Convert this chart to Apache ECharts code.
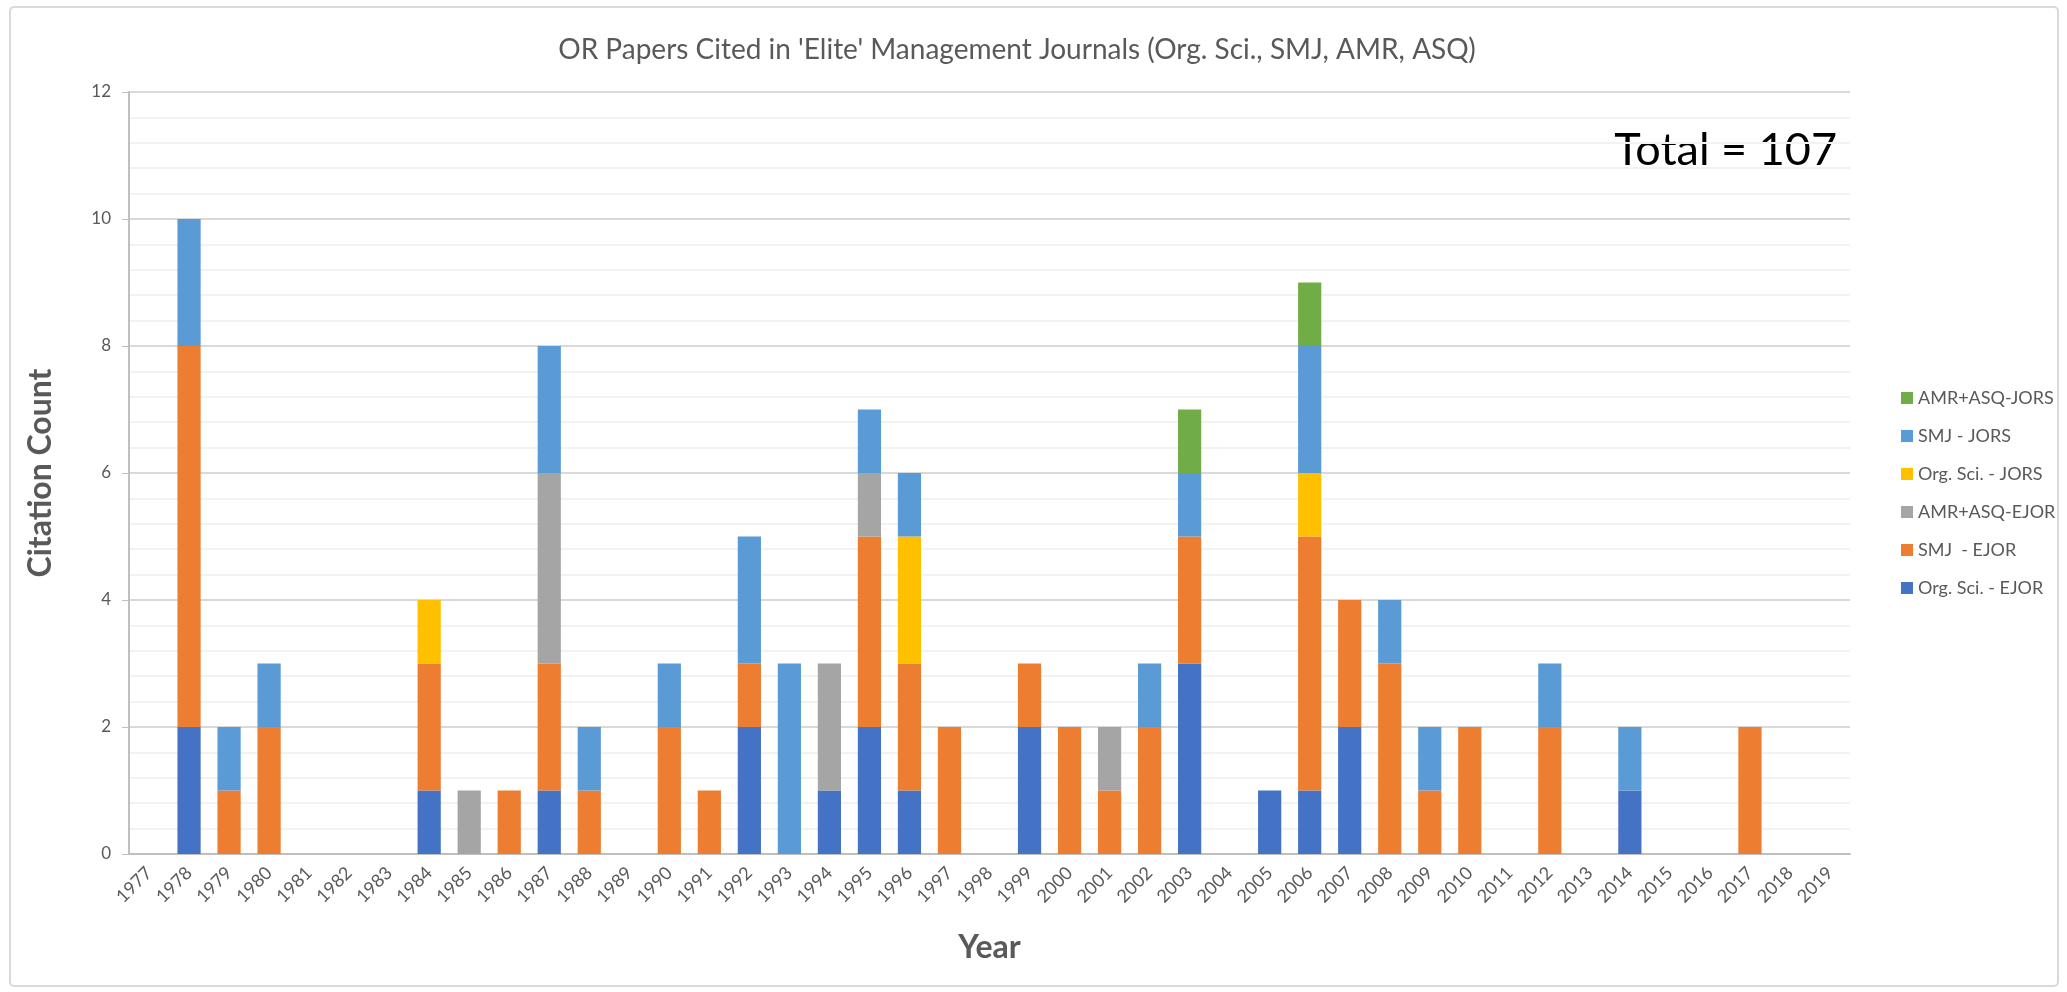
<!DOCTYPE html>
<html>
<head>
<meta charset="utf-8">
<title>OR Papers Cited in 'Elite' Management Journals</title>
<script src="https://cdn.jsdelivr.net/npm/echarts@6/dist/echarts.min.js"></script>
<style>
  html, body { margin: 0; padding: 0; background: #fff; }
  #chart { width: 2067px; height: 992px; }
</style>
</head>
<body>
<div id="chart"></div>
<script>
// years on the x axis
const years = []
for (let y = 1977; y <= 2019; y++) years.push(String(y))

// citation counts per year, one array per series (1977..2019)
const orgSciEJOR = [0, 2, 0, 0, 0, 0, 0, 1, 0, 0, 1, 0, 0, 0, 0, 2, 0, 1, 2, 1, 0, 0, 2, 0, 0, 0, 3, 0, 1, 1, 2, 0, 0, 0, 0, 0, 0, 1, 0, 0, 0, 0, 0]
const smjEJOR    = [0, 6, 1, 2, 0, 0, 0, 2, 0, 1, 2, 1, 0, 2, 1, 1, 0, 0, 3, 2, 2, 0, 1, 2, 1, 2, 2, 0, 0, 4, 2, 3, 1, 2, 0, 2, 0, 0, 0, 0, 2, 0, 0]
const amrAsqEJOR = [0, 0, 0, 0, 0, 0, 0, 0, 1, 0, 3, 0, 0, 0, 0, 0, 0, 2, 1, 0, 0, 0, 0, 0, 1, 0, 0, 0, 0, 0, 0, 0, 0, 0, 0, 0, 0, 0, 0, 0, 0, 0, 0]
const orgSciJORS = [0, 0, 0, 0, 0, 0, 0, 1, 0, 0, 0, 0, 0, 0, 0, 0, 0, 0, 0, 2, 0, 0, 0, 0, 0, 0, 0, 0, 0, 1, 0, 0, 0, 0, 0, 0, 0, 0, 0, 0, 0, 0, 0]
const smjJORS    = [0, 2, 1, 1, 0, 0, 0, 0, 0, 0, 2, 1, 0, 1, 0, 2, 3, 0, 1, 1, 0, 0, 0, 0, 0, 1, 1, 0, 0, 2, 0, 1, 1, 0, 0, 1, 0, 1, 0, 0, 0, 0, 0]
const amrAsqJORS = [0, 0, 0, 0, 0, 0, 0, 0, 0, 0, 0, 0, 0, 0, 0, 0, 0, 0, 0, 0, 0, 0, 0, 0, 0, 0, 1, 0, 0, 1, 0, 0, 0, 0, 0, 0, 0, 0, 0, 0, 0, 0, 0]

const seriesNames = ['Org. Sci. - EJOR', 'SMJ  - EJOR', 'AMR+ASQ-EJOR', 'Org. Sci. - JORS', 'SMJ - JORS', 'AMR+ASQ-JORS']
const seriesData = [orgSciEJOR, smjEJOR, amrAsqEJOR, orgSciJORS, smjJORS, amrAsqJORS]
const seriesColors = ['#4472c4', '#ed7d31', '#a5a5a5', '#ffc000', '#5b9bd5', '#70ad47']

const FONT = 'Lato, "Open Sans", sans-serif'
const grey = '#595959'

const chart = echarts.init(document.getElementById('chart'))

chart.setOption({
  animation: false,
  textStyle: { fontFamily: FONT },
  title: {
    text: "OR Papers Cited in 'Elite' Management Journals (Org. Sci., SMJ, AMR, ASQ)",
    left: 1012,
    textAlign: 'center',
    top: 31,
    textStyle: { fontFamily: FONT, fontSize: 28, fontWeight: 'normal', color: grey }
  },
  legend: {
    orient: 'vertical',
    left: 1896,
    top: 384,
    itemWidth: 12,
    itemHeight: 12,
    itemGap: 20,
    icon: 'rect',
    data: seriesNames.slice().reverse(),
    textStyle: { fontFamily: FONT, fontSize: 18, color: grey }
  },
  grid: {
    left: 129,
    right: 217,
    top: 92,
    bottom: 138
  },
  xAxis: {
    type: 'category',
    data: years,
    name: 'Year',
    nameLocation: 'middle',
    nameGap: 78,
    nameTextStyle: { fontFamily: FONT, fontSize: 32, fontWeight: 'bold', color: grey },
    axisLine: { lineStyle: { color: '#bfbfbf', width: 2 } },
    axisTick: { show: false },
    axisLabel: { rotate: 45, margin: 16, fontSize: 18, color: grey, interval: 0 }
  },
  yAxis: {
    type: 'value',
    min: 0,
    max: 12,
    interval: 2,
    name: 'Citation Count',
    nameLocation: 'middle',
    nameGap: 72,
    nameTextStyle: { fontFamily: FONT, fontSize: 32, fontWeight: 'bold', color: grey },
    axisLine: { show: true, lineStyle: { color: '#bfbfbf', width: 2 } },
    axisTick: { show: true, length: 7, lineStyle: { color: '#bfbfbf' } },
    axisLabel: { fontSize: 17, color: grey, margin: 18 },
    splitLine: { lineStyle: { color: '#d9d9d9', width: 2 } },
    minorTick: { show: false, splitNumber: 5 },
    minorSplitLine: { show: true, lineStyle: { color: '#f2f2f2', width: 2 } }
  },
  graphic: [
    {
      type: 'rect',
      shape: { x: 10, y: 7, width: 2048, height: 979, r: 4 },
      style: { fill: 'none', stroke: '#d9d9d9', lineWidth: 2 },
      silent: true
    },
    {
      type: 'text',
      right: 230,
      top: 128,
      style: { text: 'Total = 107', fontFamily: FONT, fontSize: 45, fill: '#000' }
    }
  ],
  series: seriesNames.map((name, i) => ({
    name: name,
    type: 'bar',
    stack: 'total',
    barCategoryGap: '42%',
    data: seriesData[i],
    itemStyle: { color: seriesColors[i] }
  }))
})
</script>
</body>
</html>
